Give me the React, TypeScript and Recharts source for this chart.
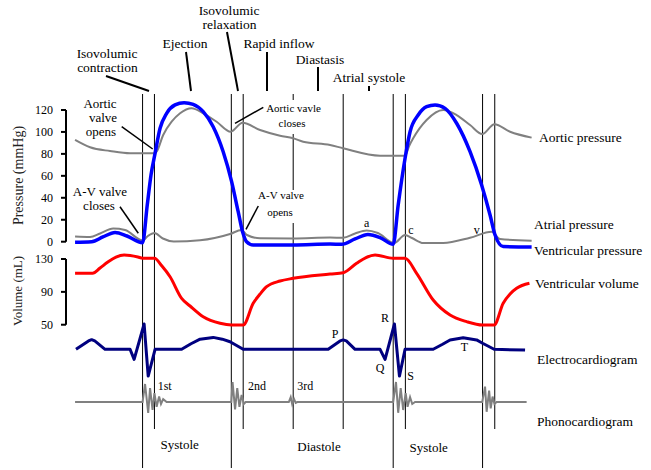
import React from 'react';
import { ComposedChart, Line, XAxis, YAxis, ReferenceLine } from 'recharts';

const W = 651;
const H = 470;
const FONT = '"Liberation Serif", "Times New Roman", serif';

// ---------- data (time in ms) ----------
const aorticTime = [29, 77, 141, 205, 283, 290, 311, 338, 365, 402, 439, 482, 527, 565, 621, 685, 727, 759, 845, 887, 1005, 1085, 1098, 1111, 1154, 1207, 1250, 1293, 1332, 1371, 1421, 1490];
const aorticPressure = [92.7, 86.0, 82.6, 80.5, 80.5, 82.0, 97.2, 109.3, 117.0, 121.5, 117.0, 109.3, 100.2, 108.4, 101.8, 96.6, 94.2, 91.1, 88.1, 85.1, 78.4, 78.4, 87.2, 94.2, 110.9, 120.0, 115.4, 106.3, 98.1, 107.0, 100.2, 94.8];

const ventTime = [29, 82, 118, 157, 195, 245, 260, 272, 285, 301, 322, 349, 378, 407, 439, 471, 503, 530, 551, 565, 578, 599, 727, 845, 882, 925, 966, 1005, 1047, 1063, 1085, 1101, 1127, 1154, 1181, 1213, 1250, 1293, 1330, 1357, 1373, 1399, 1490];
const ventPressure = [-0.5, 0, 4.3, 8.4, 5.2, -0.9, 33.4, 60.8, 80.5, 103.3, 117.0, 124.6, 126.7, 125.2, 118.5, 104.8, 82.0, 54.7, 27.3, 9.1, 0, -3.0, -3.0, -2.1, -2.4, 2.5, 6.6, 3.8, -2.4, 33.4, 76.0, 100.2, 115.4, 123.0, 124.6, 121.5, 107.9, 82.0, 51.7, 24.3, 6.1, -4.4, -4.8];

const atrialTime = [29, 77, 109, 151, 189, 245, 262, 283, 310, 345, 429, 525, 562, 579, 621, 727, 845, 887, 925, 962, 998, 1050, 1085, 1107, 1143, 1207, 1293, 1362, 1389, 1490];
const atrialPressure = [4.7, 4.3, 7.5, 12.0, 10.7, 1.1, 5.2, 7.9, 2.9, 0.2, 1.3, 7.0, 10.7, 6.1, 3.1, 2.9, 3.8, 3.6, 7.5, 10.2, 7.9, -1.2, 6.1, 3.4, -1.2, -1.2, 3.6, 9.1, 2.5, 0.9];

const volumeTime = [29, 85, 109, 134, 160, 186, 230, 245, 283, 307, 333, 370, 397, 439, 493, 530, 567, 599, 621, 642, 685, 727, 845, 887, 930, 960, 989, 1047, 1085, 1122, 1175, 1229, 1282, 1333, 1370, 1399, 1421, 1442, 1483];
const ventricularVolume = [112.6, 112.6, 119.0, 126.3, 132.4, 134.9, 132.5, 131.0, 130.9, 121.5, 108.4, 82.1, 72.8, 59.7, 51.7, 49.6, 49.6, 76.1, 87.4, 96.3, 103.2, 106.5, 111.7, 113.3, 124.8, 131.8, 134.9, 130.9, 130.9, 112.6, 80.1, 61.8, 53.7, 49.6, 49.6, 76.1, 87.4, 94.3, 100.4];

const ecgTime = [32, 72, 82, 92, 125, 205, 218, 250, 263, 285, 370, 400, 429, 471, 500, 525, 567, 839, 877, 887, 897, 925, 1005, 1021, 1051, 1067, 1085, 1175, 1205, 1229, 1271, 1314, 1333, 1370, 1469];
const ecgSignal = [0, 0.33, 0.38, 0.33, 0, 0, -0.4, 1.0, -1.06, 0, 0, 0.22, 0.40, 0.47, 0.40, 0.30, 0, 0, 0.33, 0.37, 0.33, 0, 0, -0.4, 1.0, -1.06, 0, 0, 0.2, 0.37, 0.46, 0.37, 0.24, 0, -0.03];

const phonoTime = [29, 245, 253, 263, 269, 277, 283, 290, 298, 304, 311, 322, 529, 533, 541, 548, 555, 562, 569, 575, 713, 719, 724, 730, 735, 740, 1047, 1056, 1063, 1071, 1079, 1087, 1093, 1101, 1108, 1117, 1332, 1341, 1346, 1354, 1359, 1365, 1371, 1378, 1474];
const phonoSignal = [0, 0, 0.9, -0.55, 0.69, -0.4, 0.44, -0.24, 0.27, -0.1, 0.14, 0, 0, 1.0, -0.37, 0.69, -0.24, 0.35, -0.1, 0, 0, 0.24, -0.12, 0.14, -0.04, 0, 0, 1.0, -0.54, 0.69, -0.4, 0.44, -0.24, 0.24, -0.1, 0, 0, 0.77, -0.49, 0.57, -0.32, 0.27, -0.1, 0, 0];

// phase boundaries (ms)
const phaseTimes = [245, 283, 529, 567, 727, 887, 1047, 1086, 1333, 1372];

const pressureTicks = [0, 20, 40, 60, 80, 100, 120];
const volumeTicks = [50, 90, 130];

// ---------- layout ----------
const timeDomain: [number, number] = [0, 1496];
const pressureDomain: [number, number] = [-208, 220.2];
const volumeDomain: [number, number] = [-126.9, 445.4];
const ecgDomain: [number, number] = [-4.771, 13.806];
const phonoDomain: [number, number] = [-3.4, 20.1];
const MARGIN = { top: 0, right: 117.5, bottom: 0, left: 0 };
// vertical extents (px) of each phase line's visible segments
const phaseSegments: number[][][] = [
  [[94, 468]], [[94, 429]], [[94, 468]], [[94, 429]],
  [[94, 100], [134, 190], [223, 429]],
  [[94, 429]], [[94, 468]], [[94, 429]], [[94, 468]], [[94, 429]],
];

const zip = (ts: number[], vs: number[]) => ts.map((t, i) => ({ t, v: vs[i] }));

const aorticData = zip(aorticTime, aorticPressure);
const ventData = zip(ventTime, ventPressure);
const atrialData = zip(atrialTime, atrialPressure);
const volumeData = zip(volumeTime, ventricularVolume);
const ecgData = zip(ecgTime, ecgSignal);
const phonoData = zip(phonoTime, phonoSignal);

const tickStyle = { fill: '#000', fontSize: 12, fontFamily: FONT };
const tickLineStyle = { stroke: '#000', strokeWidth: 2 };

type Lbl = [string, number, number, number?];
const rightLabels: Lbl[] = [
  ['Aortic pressure', 539, 137],
  ['Atrial pressure', 534, 224],
  ['Ventricular pressure', 534, 250],
  ['Ventricular volume', 535, 283],
  ['Electrocardiogram', 537, 359],
  ['Phonocardiogram', 537, 421],
];
const centerLabels: Lbl[] = [
  ['Isovolumic', 107, 53, 13.5], ['contraction', 107.5, 67, 13.5],
  ['Ejection', 185, 43, 13.5],
  ['Isovolumic', 229, 10, 13.5], ['relaxation', 229.5, 24, 13.5],
  ['Rapid inflow', 279, 43, 13.5],
  ['Diastasis', 320, 59, 13.5],
  ['Atrial systole', 369, 77, 13.5],
  ['Aortic', 100, 103.5, 13], ['valve', 103, 117.5, 13], ['opens', 101, 131, 13],
  ['A-V valve', 100, 191.5, 13], ['closes', 99, 205, 13],
  ['Aortic vavle', 293.5, 108, 11], ['closes', 292, 122.5, 11],
  ['A-V valve', 281, 195, 11], ['opens', 280, 211.5, 11],
  ['a', 366.7, 223, 12], ['c', 411, 230, 12], ['v', 476.7, 230, 12],
  ['P', 335, 334, 12], ['R', 385, 318, 12], ['Q', 380, 367.5, 12], ['S', 410.7, 376, 12], ['T', 464.3, 347, 12],
  ['1st', 164.7, 386, 12], ['2nd', 257, 386, 12], ['3rd', 305.2, 386, 12],
  ['Systole', 179.7, 444, 13], ['Diastole', 319, 446, 13], ['Systole', 428.7, 447, 13],
];
const leaders: [number, number, number, number, number][] = [
  [106, 76, 149, 91, 2],
  [186, 52, 191, 91, 2],
  [227, 32, 238, 91, 2],
  [267, 52, 267, 91, 2],
  [318, 67, 318, 91, 2],
  [369, 86, 369, 91, 2],
  [121.7, 126.7, 152.7, 149, 1.5],
  [120, 206.7, 138.3, 233.3, 1.5],
  [263.3, 107.3, 235, 123.3, 1.5],
  [258.3, 206, 246, 229.3, 1.5],
];

const abs: React.CSSProperties = { position: 'absolute', left: 0, top: 0 };

export default function App() {
  return (
    <div style={{ position: 'absolute', left: 0, top: 0, width: W, height: H, background: '#fff', overflow: 'hidden' }}>
      <div style={abs}>
        <ComposedChart width={W} height={H} margin={MARGIN}>
          <XAxis xAxisId={0} type="number" dataKey="t" domain={timeDomain} hide allowDataOverflow />
          <YAxis yAxisId="v" type="number" domain={volumeDomain} allowDataOverflow ticks={volumeTicks} interval={0}
            width={66} axisLine={false} tickLine={tickLineStyle} tickSize={5} tickMargin={8} tick={tickStyle} />
          <YAxis yAxisId="frame" type="number" domain={[0, 470]} reversed hide width={0} allowDataOverflow />
          {phaseTimes.map((t, i) =>
            phaseSegments[i].map((s, j) => (
              <ReferenceLine key={`ph${i}-${j}`} yAxisId="frame" segment={[{ x: t, y: s[0] }, { x: t, y: s[1] }]}
                stroke="#000" strokeWidth={1} />
            ))
          )}
          <ReferenceLine yAxisId="v" segment={[{ x: 0, y: 50 }, { x: 0, y: 130 }]} stroke="#000" strokeWidth={2} />
          <Line yAxisId="v" data={volumeData} dataKey="v" type="monotone" stroke="#ff0000" strokeWidth={3}
            dot={false} activeDot={false} isAnimationActive={false} />
        </ComposedChart>
      </div>
      <div style={abs}>
        <ComposedChart width={W} height={H} margin={MARGIN}>
          <XAxis xAxisId={0} type="number" dataKey="t" domain={timeDomain} hide allowDataOverflow />
          <YAxis yAxisId="p" type="number" domain={pressureDomain} allowDataOverflow ticks={pressureTicks} interval={0}
            width={66} axisLine={false} tickLine={tickLineStyle} tickSize={5} tickMargin={8} tick={tickStyle} />
          <YAxis yAxisId="ecg" type="number" domain={ecgDomain} hide width={0} allowDataOverflow />
          <YAxis yAxisId="phono" type="number" domain={phonoDomain} hide width={0} allowDataOverflow />
          <ReferenceLine yAxisId="p" segment={[{ x: 0, y: 0 }, { x: 0, y: 120 }]} stroke="#000" strokeWidth={2} />
          <Line yAxisId="phono" data={phonoData} dataKey="v" type="linear" stroke="#808080" strokeWidth={2}
            dot={false} activeDot={false} isAnimationActive={false} />
          <Line yAxisId="ecg" data={ecgData} dataKey="v" type="linear" stroke="#00007f" strokeWidth={3}
            strokeLinejoin="round" dot={false} activeDot={false} isAnimationActive={false} />
          <Line yAxisId="p" data={atrialData} dataKey="v" type="monotone" stroke="#808080" strokeWidth={2}
            dot={false} activeDot={false} isAnimationActive={false} />
          <Line yAxisId="p" data={aorticData} dataKey="v" type="monotone" stroke="#808080" strokeWidth={2}
            dot={false} activeDot={false} isAnimationActive={false} />
          <Line yAxisId="p" data={ventData} dataKey="v" type="monotone" stroke="#0000ff" strokeWidth={3.5}
            dot={false} activeDot={false} isAnimationActive={false} />
        </ComposedChart>
      </div>
      <svg width={W} height={H} style={{ ...abs, pointerEvents: 'none' }}>
        {leaders.map((l, i) => (
          <line key={`ld${i}`} x1={l[0]} y1={l[1]} x2={l[2]} y2={l[3]} stroke="#000" strokeWidth={l[4]} />
        ))}
        {rightLabels.map((l, i) => (
          <text key={`rl${i}`} x={l[1]} y={l[2]} fontSize={13.5} fontFamily={FONT} fill="#000" dominantBaseline="central">{l[0]}</text>
        ))}
        {centerLabels.map((l, i) => (
          <text key={`cl${i}`} x={l[1]} y={l[2]} fontSize={l[3]} fontFamily={FONT} fill="#000" textAnchor="middle" dominantBaseline="central">{l[0]}</text>
        ))}
        <text transform="translate(18,175.5) rotate(-90)" fontSize={14} fontFamily={FONT} fill="#222" textAnchor="middle" dominantBaseline="central">Pressure (mmHg)</text>
        <text transform="translate(17,291) rotate(-90)" fontSize={13} fontFamily={FONT} fill="#222" textAnchor="middle" dominantBaseline="central">Volume (mL)</text>
      </svg>
    </div>
  );
}
